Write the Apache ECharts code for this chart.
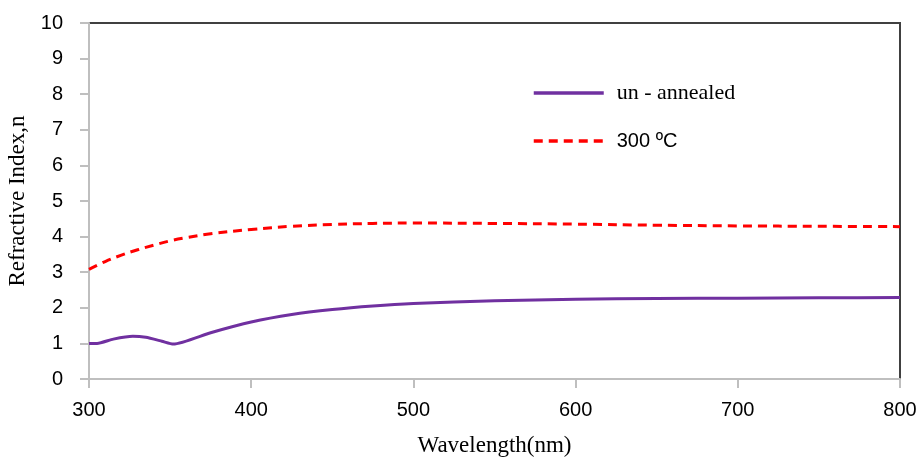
<!DOCTYPE html>
<html style="height: 100%">
<head>
<meta charset="utf-8">
<title>Refractive Index</title>
<script src="https://cdn.jsdelivr.net/npm/echarts@6/dist/echarts.min.js"></script>
</head>
<body style="height: 100%; margin: 0; background: #fff">
<div id="container" style="width: 920px; height: 457px"></div>
<script type="text/javascript">
// wavelength (nm) and refractive index
var wlUn = [300, 305, 315, 327, 335, 345, 352, 375, 400, 425, 450, 475, 500, 550, 600, 650, 700, 750, 800];
var nUn = [1.0, 1.0, 1.12, 1.2, 1.17, 1.06, 0.98, 1.3, 1.6, 1.81, 1.95, 2.05, 2.12, 2.2, 2.24, 2.26, 2.27, 2.28, 2.29];
var wl300 = [300, 310, 320, 330, 340, 350, 360, 375, 400, 425, 450, 475, 500, 550, 600, 650, 700, 750, 800];
var n300 = [3.08, 3.3, 3.48, 3.63, 3.76, 3.88, 3.97, 4.08, 4.2, 4.29, 4.34, 4.37, 4.38, 4.37, 4.35, 4.32, 4.3, 4.29, 4.28];
var seriesNames = ['un - annealed', '300 \u00baC'];

function pairs(xs, ys) {
    var out = [];
    for (var i = 0; i < xs.length; i++) out.push([xs[i], ys[i]]);
    return out;
}

var myChart = echarts.init(document.getElementById('container'));
var option = {
    animation: false,
    backgroundColor: '#fff',
    grid: {
        left: 89, right: 20, top: 23, bottom: 78,
        outerBoundsMode: 'none',
        containLabel: false,
        show: true, borderColor: '#404040', borderWidth: 2
    },
    legend: {
        orient: 'vertical',
        left: 527,
        top: 77,
        itemWidth: 70,
        itemHeight: 14,
        itemGap: 27,
        itemStyle: { opacity: 0 },
        lineStyle: { width: 3.5 },
        formatter: function (name) {
            return name === seriesNames[1] ? '{s|' + name + '}' : name;
        },
        textStyle: {
            fontFamily: 'Liberation Serif', fontSize: 22, color: '#000', padding: [0, 0, 0, 8],
            rich: { s: { fontFamily: 'Liberation Sans', fontSize: 20, color: '#000' } }
        },
        data: seriesNames
    },
    xAxis: {
        type: 'value',
        min: 300, max: 800, interval: 100,
        name: 'Wavelength(nm)',
        nameLocation: 'middle',
        nameGap: 55,
        nameTextStyle: { fontFamily: 'Liberation Serif', fontSize: 23, color: '#000' },
        axisLine: { lineStyle: { color: '#bfbfbf', width: 2 } },
        axisTick: { show: true, length: 9, lineStyle: { color: '#bfbfbf', width: 2 } },
        axisLabel: { margin: 21, fontFamily: 'Liberation Sans', fontSize: 20, color: '#000' },
        splitLine: { show: false }
    },
    yAxis: {
        type: 'value',
        min: 0, max: 10, interval: 1,
        name: 'Refractive Index,n',
        nameLocation: 'middle',
        nameGap: 56,
        nameTextStyle: { fontFamily: 'Liberation Serif', fontSize: 23, color: '#000' },
        axisLine: { show: true, lineStyle: { color: '#bfbfbf', width: 2 } },
        axisTick: { show: true, length: 9, lineStyle: { color: '#bfbfbf', width: 2 } },
        axisLabel: { margin: 26, fontFamily: 'Liberation Sans', fontSize: 20, color: '#000' },
        splitLine: { show: false }
    },
    series: [
        {
            name: seriesNames[0],
            type: 'line',
            smooth: 0.2,
            symbol: 'none',
            data: pairs(wlUn, nUn),
            lineStyle: { color: '#7030a0', width: 3 },
            itemStyle: { color: '#7030a0' }
        },
        {
            name: seriesNames[1],
            type: 'line',
            smooth: 0.4,
            symbol: 'none',
            data: pairs(wl300, n300),
            lineStyle: { color: '#ff0000', width: 3, type: [9, 6] },
            itemStyle: { color: '#ff0000' }
        }
    ]
};
myChart.setOption(option);
</script>
</body>
</html>
